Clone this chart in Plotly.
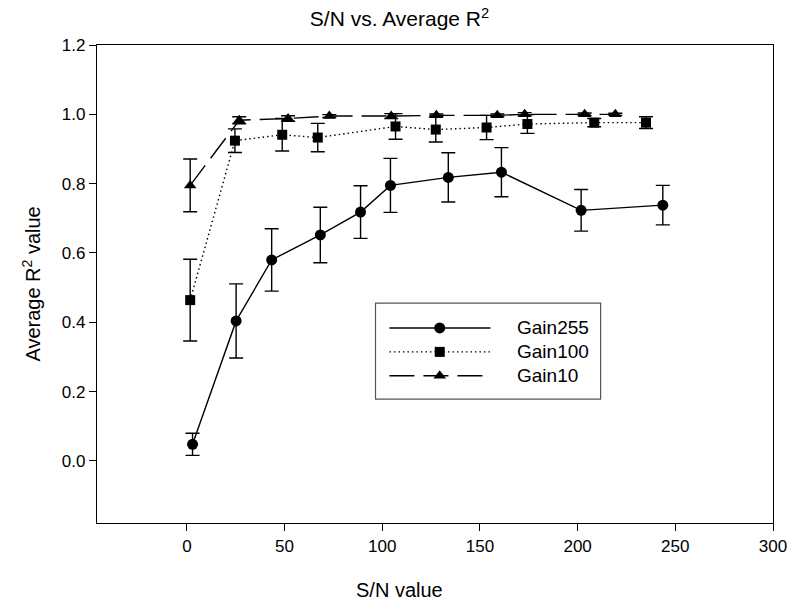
import plotly.graph_objects as go

# ---- data ----
g255_x = [2.9, 25.2, 43.4, 68.3, 88.9, 104.2, 133.8, 161.0, 201.8, 243.6]
g255_y = [0.048, 0.404, 0.580, 0.652, 0.718, 0.795, 0.818, 0.833, 0.723, 0.738]
g255_e = [0.032, 0.107, 0.090, 0.080, 0.076, 0.078, 0.071, 0.071, 0.060, 0.057]

g100_x = [1.7, 24.6, 48.8, 67.0, 106.8, 127.4, 153.4, 174.3, 208.5, 235.0]
g100_y = [0.464, 0.924, 0.941, 0.933, 0.965, 0.956, 0.962, 0.972, 0.976, 0.976]
g100_e = [0.118, 0.034, 0.047, 0.041, 0.037, 0.036, 0.035, 0.027, 0.012, 0.017]

g10_x = [1.7, 26.8, 51.8, 72.9, 104.6, 127.7, 158.9, 172.9, 203.6, 219.3]
g10_y = [0.795, 0.983, 0.988, 0.995, 0.995, 0.997, 0.997, 1.000, 1.000, 1.000]
g10_e = [0.076, 0.010, 0.008, 0.004, 0.007, 0.004, 0.004, 0.005, 0.004, 0.003]

series_names = ["Gain255", "Gain100", "Gain10"]
x_ticks = [0, 50, 100, 150, 200, 250, 300]
y_ticks = [0.0, 0.2, 0.4, 0.6, 0.8, 1.0, 1.2]

FONT = "Liberation Sans, Arial, sans-serif"
styles = [
    dict(dash="solid", symbol="circle", size=11),
    dict(dash="1.5px,3px", symbol="square", size=10),
    dict(dash="25px,9px", symbol="triangle-up", size=11),
]
data = [(g255_x, g255_y, g255_e), (g100_x, g100_y, g100_e), (g10_x, g10_y, g10_e)]

fig = go.Figure()
for (xs, ys, es), st, nm in zip(data, styles, series_names):
    fig.add_trace(go.Scatter(
        x=xs, y=ys, name=nm, mode="lines+markers",
        line=dict(color="black", width=1.4, dash=st["dash"]),
        marker=dict(symbol=st["symbol"], size=st["size"], color="black"),
        error_y=dict(type="data", array=es, visible=True, color="black",
                     thickness=1.4, width=7),
        showlegend=False,
    ))

# ---- custom legend (overlay axes spanning the plot area, 0..1) ----
leg_rows = [0.408, 0.358, 0.308]
for st, nm, yy in zip(styles, series_names, leg_rows):
    fig.add_trace(go.Scatter(
        x=[0.4326, 0.582], y=[yy, yy], xaxis="x2", yaxis="y2", mode="lines",
        line=dict(color="black", width=1.4, dash=st["dash"]),
        showlegend=False, hoverinfo="skip",
    ))
    fig.add_trace(go.Scatter(
        x=[0.507], y=[yy], xaxis="x2", yaxis="y2", mode="markers",
        marker=dict(symbol=st["symbol"], size=st["size"], color="black"),
        showlegend=False, hoverinfo="skip",
    ))
    fig.add_annotation(x=0.619, y=yy, xref="paper", yref="paper", text=nm,
                       showarrow=False, xanchor="left", yanchor="middle",
                       font=dict(family=FONT, size=19, color="black"))
fig.add_shape(type="rect", xref="paper", yref="paper", x0=0.412, x1=0.745,
              y0=0.259, y1=0.460, line=dict(color="#555", width=1.2))

# axis titles and chart title as annotations (centred on the page, like the reference)
fig.add_annotation(x=(402 - 97) / 682, y=(523 - 590) / 478, xref="paper", yref="paper",
                   text="S/N value", showarrow=False, xanchor="center", yanchor="middle",
                   font=dict(family=FONT, size=20, color="black"))
fig.add_annotation(x=(30 - 97) / 682, y=0.5, xref="paper", yref="paper",
                   text="Average R<sup>2</sup> value", textangle=-90, showarrow=False,
                   xanchor="center", yanchor="middle",
                   font=dict(family=FONT, size=20, color="black"))

fig.update_layout(
    width=799, height=602,
    margin=dict(l=97, r=20, t=45, b=79),
    paper_bgcolor="white", plot_bgcolor="white",
    font=dict(family=FONT, color="black", size=17),
    title=dict(text="S/N vs. Average R<sup>2</sup>", x=0.5, xref="container",
               xanchor="center", y=1 - 19 / 602, yanchor="middle",
               yref="container",
               font=dict(family=FONT, size=21, color="black")),
    xaxis=dict(range=[-46, 300], tickvals=x_ticks, ticks="outside", ticklen=7,
               tickwidth=1.4, tickcolor="black", showline=True, linecolor="black",
               linewidth=1.4, mirror=True, showgrid=False, zeroline=False,
               tickfont=dict(size=17)),
    yaxis=dict(range=[-0.179, 1.2], tickvals=y_ticks, tickformat=".1f",
               ticks="outside", ticklen=7, tickwidth=1.4, tickcolor="black",
               showline=True, linecolor="black", linewidth=1.4, mirror=True,
               showgrid=False, zeroline=False, tickfont=dict(size=17)),
    xaxis2=dict(range=[0, 1], overlaying="x", anchor="y2", visible=False,
                fixedrange=True),
    yaxis2=dict(range=[0, 1], overlaying="y", anchor="x2", visible=False,
                fixedrange=True),
)

fig.write_html("out.html")
